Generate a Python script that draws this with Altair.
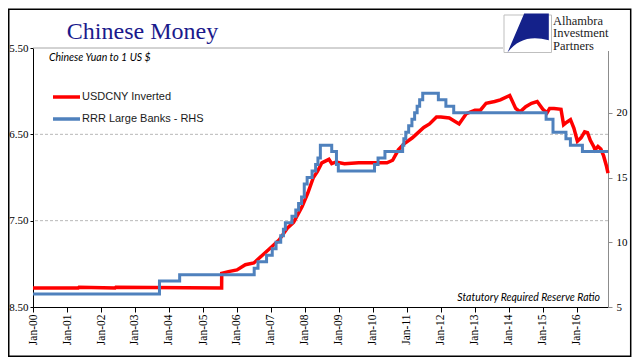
import altair as alt
import pandas as pd

# ---------------- data ----------------
red_dates = [
    "2000-01-01", "2001-05-01", "2001-05-10", "2002-06-01", "2002-06-10", "2005-07-20",
    "2005-07-21", "2005-10-01", "2006-01-01", "2006-04-01", "2006-07-01", "2006-10-01",
    "2007-01-01", "2007-04-01", "2007-07-01", "2007-09-01", "2007-12-01", "2008-02-01",
    "2008-04-01", "2008-05-15", "2008-07-01", "2008-09-15", "2008-10-15", "2008-12-01",
    "2009-03-01", "2009-08-01", "2010-01-01", "2010-06-01", "2010-08-01", "2010-10-01",
    "2010-12-01", "2011-03-01", "2011-05-01", "2011-07-01", "2011-09-01", "2011-11-15",
    "2012-01-01", "2012-04-01", "2012-07-15", "2012-10-01", "2013-01-01", "2013-03-01",
    "2013-05-01", "2013-08-01", "2013-10-01", "2014-01-10", "2014-03-15", "2014-05-01",
    "2014-07-01", "2014-09-01", "2014-11-01", "2015-01-01", "2015-02-15", "2015-03-15",
    "2015-05-01", "2015-07-15", "2015-08-12", "2015-09-15", "2015-10-25", "2015-12-01",
    "2016-01-07", "2016-02-15", "2016-03-25", "2016-04-25", "2016-05-25", "2016-06-30",
    "2016-07-15", "2016-08-15", "2016-09-15", "2016-10-15", "2016-11-15", "2016-12-01",
]
red_values = [
    8.28, 8.28, 8.27, 8.28, 8.27, 8.28,
    8.11, 8.09, 8.07, 8.01, 7.99, 7.90,
    7.81, 7.72, 7.58, 7.52, 7.34, 7.18,
    7.00, 6.93, 6.83, 6.79, 6.84, 6.82,
    6.84, 6.83, 6.83, 6.83, 6.80, 6.68,
    6.61, 6.54, 6.48, 6.42, 6.38, 6.30,
    6.30, 6.31, 6.38, 6.26, 6.22, 6.22,
    6.14, 6.12, 6.10, 6.05, 6.20, 6.24,
    6.18, 6.14, 6.12, 6.21, 6.25, 6.20,
    6.20, 6.21, 6.39, 6.36, 6.33, 6.43,
    6.58, 6.54, 6.47, 6.48, 6.57, 6.64,
    6.68, 6.64, 6.67, 6.75, 6.87, 6.95,
]

rrr_dates = [
    "2000-01-01", "2003-09-21", "2004-04-25", "2006-07-05", "2006-08-15", "2006-11-15",
    "2007-01-15", "2007-02-25", "2007-04-16", "2007-05-15", "2007-06-05", "2007-08-15",
    "2007-09-25", "2007-10-25", "2007-11-26", "2007-12-25", "2008-01-25", "2008-03-18",
    "2008-04-25", "2008-05-20", "2008-06-15", "2008-10-15", "2008-12-05", "2008-12-25",
    "2010-01-18", "2010-02-25", "2010-05-10", "2010-11-16", "2010-11-29", "2010-12-20",
    "2011-01-20", "2011-02-24", "2011-03-25", "2011-04-21", "2011-05-18", "2011-06-20",
    "2011-12-05", "2012-02-24", "2012-05-18", "2015-02-05", "2015-04-20", "2015-09-06",
    "2015-10-24", "2016-03-01", "2016-12-01",
]
rrr_values = [
    6, 7, 7.5, 8, 8.5, 9,
    9.5, 10, 10.5, 11, 11.5, 12,
    12.5, 13, 13.5, 14.5, 15, 15.5,
    16, 16.5, 17.5, 17, 16, 15.5,
    16, 16.5, 17, 17.5, 18, 18.5,
    19, 19.5, 20, 20.5, 21, 21.5,
    21, 20.5, 20, 19.5, 18.5, 18,
    17.5, 17, 17,
]

x_tick_years = list(range(2000, 2017))
left_ticks = [5.5, 6.5, 7.5, 8.5]
right_ticks = [5, 10, 15, 20]
grid_levels = [6.5, 7.5]
top_level = [5.5]

series_names = ["USDCNY Inverted", "RRR Large Banks - RHS"]
title_text = "Chinese Money"
sub_text = "Chinese Yuan to 1 US $"
note_text = "Statutory Required Reserve Ratio"
logo_lines = ["Alhambra", "Investment", "Partners"]

RED = "#ff0000"
BLUE = "#4f81bd"
SERIF = "Liberation Serif"
SANS = "Liberation Sans"

red_df = pd.DataFrame({"date": pd.to_datetime(red_dates), "value": red_values})
rrr_df = pd.DataFrame({"date": pd.to_datetime(rrr_dates), "value": rrr_values})

x_scale = alt.Scale(domain=[alt.DateTime(year=2000, month=1, date=1),
                            alt.DateTime(year=2016, month=12, date=1)])
left_scale = alt.Scale(domain=[5.5, 8.5], reverse=True, nice=False, zero=False)
right_scale = alt.Scale(domain=[5, 25], nice=False, zero=False)

x_axis = alt.Axis(values=[alt.DateTime(year=y, month=1, date=1) for y in x_tick_years],
                  format="%b-%y", labelAngle=270, labelFont=SERIF, labelFontSize=11.5,
                  labelColor="black", tickColor="black", domainColor="black",
                  tickSize=5, labelPadding=2, grid=False, title=None,
                  labelOverlap=False, labelFlush=False)

grid = alt.Chart(pd.DataFrame({"lvl": grid_levels})).mark_rule(
    color="#b8b8b8", strokeDash=[3, 2], strokeWidth=1
).encode(y=alt.Y("lvl:Q", scale=left_scale, axis=None))

topline = alt.Chart(pd.DataFrame({"lvl": top_level})).mark_rule(
    color="#a6a6a6", strokeWidth=1
).encode(y=alt.Y("lvl:Q", scale=left_scale, axis=None))

red = alt.Chart(red_df).mark_line(color=RED, strokeWidth=3.5).encode(
    x=alt.X("date:T", scale=x_scale, axis=x_axis),
    y=alt.Y("value:Q", scale=left_scale,
            axis=alt.Axis(orient="left", values=left_ticks, format=".2f",
                          labelFont=SERIF, labelFontSize=11, labelColor="black",
                          tickColor="black", domainColor="black", tickSize=3,
                          labelPadding=2, grid=False, title=None)),
)

blue = alt.Chart(rrr_df).mark_line(color=BLUE, strokeWidth=3, interpolate="step-after").encode(
    x=alt.X("date:T", scale=x_scale, axis=x_axis),
    y=alt.Y("value:Q", scale=right_scale,
            axis=alt.Axis(orient="right", values=right_ticks, format="d",
                          labelFont=SERIF, labelFontSize=11, labelColor="black",
                          tickColor="#8c8c8c", domainColor="#8c8c8c", tickSize=4,
                          labelPadding=4, grid=False, title=None)),
)


def one():
    return alt.InlineData(values=[{"k": 1}])


def txt(s, x, y, **kw):
    return alt.Chart(alt.InlineData(values=[{"t": s}])).mark_text(**kw).encode(
        x=alt.value(x), y=alt.value(y), text="t:N")


def box(x1, x2, y1, y2, **kw):
    return alt.Chart(one()).mark_rect(**kw).encode(
        x=alt.value(x1), x2=alt.value(x2), y=alt.value(y1), y2=alt.value(y2))


def seg(x1, x2, y, **kw):
    return alt.Chart(one()).mark_rule(**kw).encode(
        x=alt.value(x1), x2=alt.value(x2), y=alt.value(y))


cover = box(470, 592, -39, 3, fill="white", stroke=None)
logo_box = box(471, 518.5, -33, 4.5, fill="white", stroke="#bfbfbf", strokeWidth=1)
logo_shape = alt.Chart(one()).mark_point(
    shape="M -0.16 -0.92 L 0.96 -0.92 L 0.96 0.3 Q -0.25 -0.05 -0.92 0.86 Z",
    filled=True, fill="#14218a", stroke=None, opacity=1, size=1936,
).encode(x=alt.value(494.7), y=alt.value(-14.3))

logo_text = [
    txt(line, 520, yy, font=SERIF, fontSize=12.5, color="#1c1c1c", align="left",
        baseline="alphabetic")
    for line, yy in zip(logo_lines, [-23.5, -11, 1.5])
]

border = box(-24.25, 597.7, -38.7, 308.3, filled=False, fill=None, stroke="black",
             strokeWidth=1.5)

title = txt(title_text, 109.5, -9.5, font=SERIF, fontSize=24, color="#1a1a8c",
            align="center", baseline="alphabetic")
sub = txt(sub_text, 16, 10, font="Lato", fontStyle="italic", fontSize=10.5,
          color="black", align="left", baseline="middle")
note = txt(note_text, 567, 250, font="Lato", fontStyle="italic", fontSize=10.5,
           color="black", align="right", baseline="middle")

leg_red = seg(20, 47, 49, color=RED, strokeWidth=3.5)
leg_blue = seg(20, 47, 71, color=BLUE, strokeWidth=3.5)
leg_t1 = txt(series_names[0], 49, 49, font=SANS, fontSize=11, color="#1a1a1a",
             align="left", baseline="middle")
leg_t2 = txt(series_names[1], 49, 71, font=SANS, fontSize=11, color="#1a1a1a",
             align="left", baseline="middle")

chart = alt.layer(
    grid, topline, red, blue, cover, logo_box, logo_shape, *logo_text,
    title, sub, note, leg_red, leg_blue, leg_t1, leg_t2, border,
).resolve_scale(y="independent").properties(
    width=575, height=259,
    autosize=alt.AutoSizeParams(type="none"),
    padding={"left": 25, "top": 40, "right": 25, "bottom": 50},
    background="white",
).configure_view(stroke=None)

chart.save("out.html", embed_options={"renderer": "svg", "actions": False})
